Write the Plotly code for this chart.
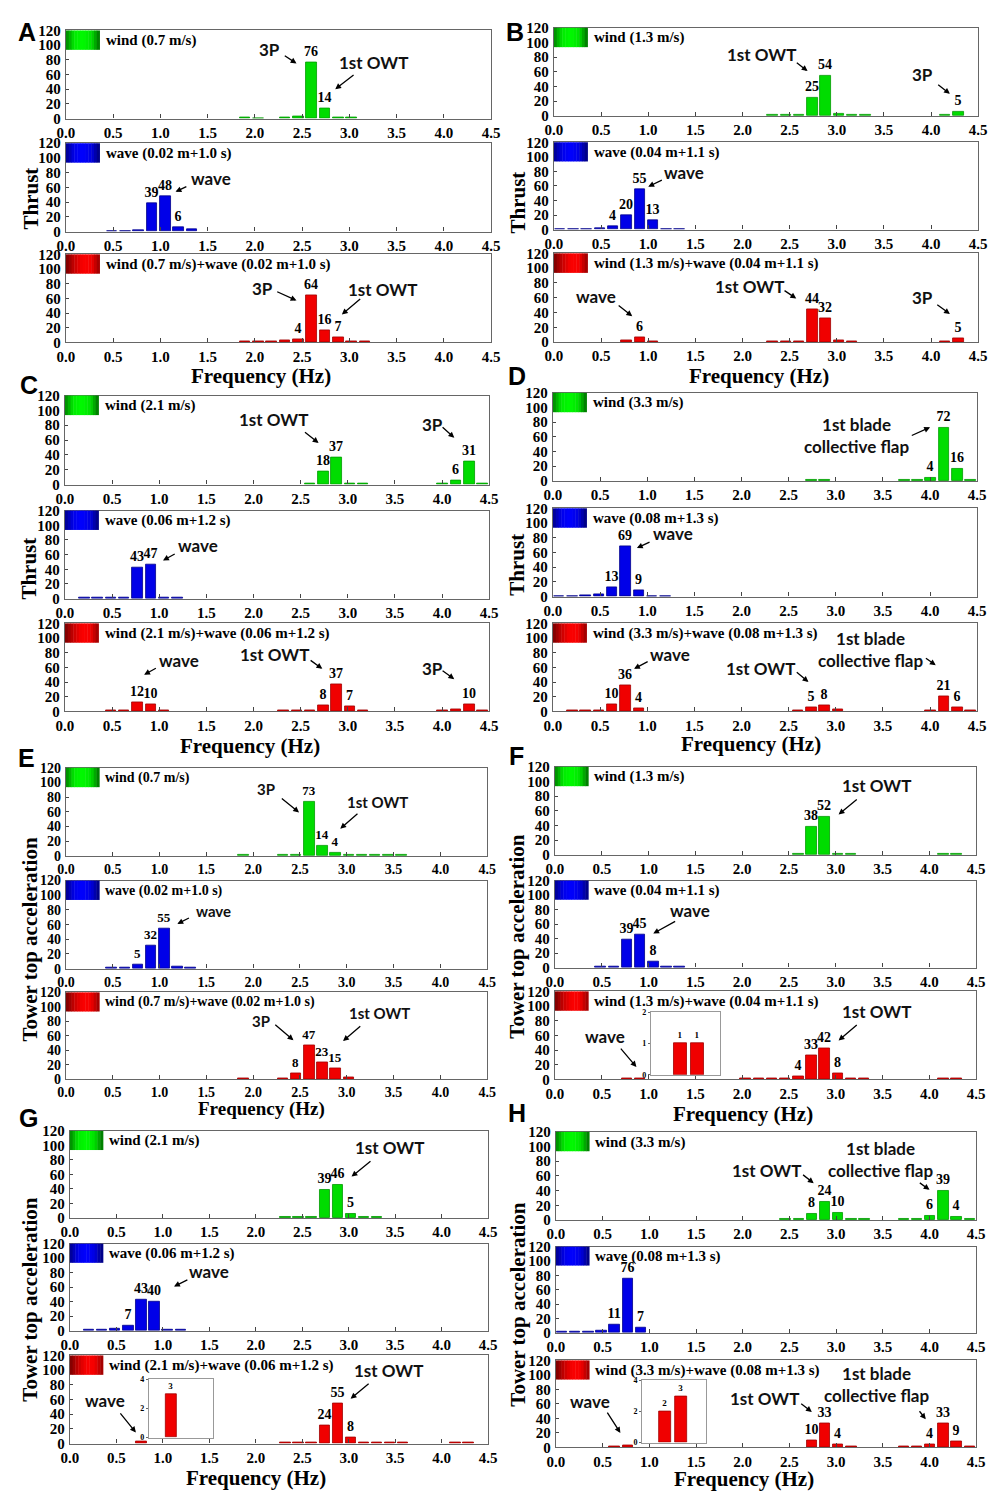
import plotly.graph_objects as go

# ---------------- DATA ----------------
# frequency bins (Hz) of the spectra
FREQ = [0.065, 0.206, 0.347, 0.487, 0.628, 0.769, 0.910, 1.051, 1.191, 1.332,
        1.473, 1.614, 1.755, 1.895, 2.036, 2.177, 2.318, 2.459, 2.599, 2.740,
        2.881, 3.022, 3.163, 3.303, 3.444, 3.585, 3.726, 3.867, 4.007, 4.148,
        4.289, 4.430]
X_TICKS = [0.0, 0.5, 1.0, 1.5, 2.0, 2.5, 3.0, 3.5, 4.0, 4.5]
Y_TICKS = [0, 20, 40, 60, 80, 100, 120]

A_WIND = [0,0,0,0,0, 0,0,0,0,0, 0,0,0,1,0.5, 0,1,3,76,14, 2,1,0,0,0, 0,0,0,0,0, 0,0]
A_WAVE = [0,0,0,1,1, 2,39,48,6,3, 0,0,0,0,0, 0,0,0,0,0, 0,0,0,0,0, 0,0,0,0,0, 0,0]
A_COMB = [0,0,0,0,0, 0,0,0,0,0, 0,0,0,1,1, 1,3,4,64,16, 7,1,1,0,0, 0,0,0,0,0, 0,0]

B_WIND = [0,0,0,0,0, 0,0,0,0,0, 0,0,0,0,0, 0,1,1,2,25, 54,3,1,1,0, 0,0,0,0,2, 5,0]
B_WAVE = [1,1,1,2,4, 20,55,13,1,1, 0,0,0,0,0, 0,0,0,0,0, 0,0,0,0,0, 0,0,0,0,0, 0,0]
B_COMB = [0,0,0,0,0, 3,6,1,0,0, 0,0,0,0,0, 0,1,1,1,44, 32,2,1,0,0, 0,0,0,0,1.5, 5,0]

C_WIND = [0,0,0,0,0, 0,0,0,0,0, 0,0,0,0,0, 0,0,0,1,18, 37,1,1,0,0, 0,0,0,1,6, 31,2]
C_WAVE = [0,1,1,1,2, 43,47,2,1,0, 0,0,0,0,0, 0,0,0,0,0, 0,0,0,0,0, 0,0,0,0,0, 0,0]
C_COMB = [0,0,0,1,1, 12,10,1,0,0, 0,0,0,0,0, 0,1,1,2,8, 37,7,1,0,0, 0,0,0,1,3, 10,1]

D_WIND = [0,0,0,0,0, 0,0,0,0,0, 0,0,0,0,0, 0,0,0,0,1, 1,0,0,0,0, 0,1,1,4,72, 16,2]
D_WAVE = [1,1,2,3,13, 69,9,1,1,0, 0,0,0,0,0, 0,0,0,0,0, 0,0,0,0,0, 0,0,0,0,0, 0,0]
D_COMB = [0,1,1,1,10, 36,4,0,0,0, 0,0,0,0,0, 0,0,0,1,5, 8,3,0,0,0, 0,0,0,1,21, 6,1]

E_WIND = [0,0,0,0,0, 0,0,0,0,0, 0,0,0,1,0, 0,1,2,73,14, 4,1,1,1,1, 1,0,0,0,0, 0,0]
E_WAVE = [0,0,0,1,1, 5,32,55,3,2, 0,0,0,0,0, 0,0,0,0,0, 0,0,0,0,0, 0,0,0,0,0, 0,0]
E_COMB = [0,0,0,0,0, 0,0,0,0,0, 0,0,0,1,0, 0,1,8,47,23, 15,3,0,0,0, 0,0,0,0,0, 0,0]

F_WIND = [0,0,0,0,0, 0,0,0,0,0, 0,0,0,0,0, 0,0,0,1,38, 52,1,2,0,0, 0,0,0,0,1, 1,0]
F_WAVE = [0,0,0,1,2, 39,45,8,2,1, 0,0,0,0,0, 0,0,0,0,0, 0,0,0,0,0, 0,0,0,0,0, 0,0]
F_COMB = [0,0,0,0,0, 1,1,0,0,0, 0,0,0,0,1, 1,1,2,4,33, 42,8,1,1,0, 0,0,0,0,1, 2,0]

G_WIND = [0,0,0,0,0, 0,0,0,0,0, 0,0,0,0,0, 0,1,1,2,39, 46,5,1,1,0, 0,0,0,0,0, 0,0]
G_WAVE = [0,1,2,3,7, 43,40,2,1,0, 0,0,0,0,0, 0,0,0,0,0, 0,0,0,0,0, 0,0,0,0,0, 0,0]
G_COMB = [0,0,0,0,0, 3,0,0,0,0, 0,0,0,0,0, 0,1,1,2,24, 55,8,2,2,1, 1,0,0,0,1, 1,0]

H_WIND = [0,0,0,0,0, 0,0,0,0,0, 0,0,0,0,0, 0,0,1,1,8, 24,10,1,1,0, 0,1,1,6,39, 4,1]
H_WAVE = [1,1,1,3,11, 76,7,0,0,0, 0,0,0,0,0, 0,0,0,0,0, 0,0,0,0,0, 0,0,0,0,0, 0,0]
H_COMB = [0,0,0,0,2, 3,0,0,0,0, 0,0,0,0,0, 0,0,0,0,10, 33,4,1,0,0, 0,1,1,4,33, 9,2]

WIND_SPEED = ["0.7 m/s", "1.3 m/s", "2.1 m/s", "3.3 m/s"]
WAVE_COND = ["0.02 m+1.0 s", "0.04 m+1.1 s", "0.06 m+1.2 s", "0.08 m+1.3 s"]
PANEL_NAMES = ["A", "B", "C", "D", "E", "F", "G", "H"]
Y_TITLES = ["Thrust"] * 4 + ["Tower top acceleration"] * 4
SERIES = [
    (A_WIND, A_WAVE, A_COMB), (B_WIND, B_WAVE, B_COMB),
    (C_WIND, C_WAVE, C_COMB), (D_WIND, D_WAVE, D_COMB),
    (E_WIND, E_WAVE, E_COMB), (F_WIND, F_WAVE, F_COMB),
    (G_WIND, G_WAVE, G_COMB), (H_WIND, H_WAVE, H_COMB),
]

# ---------------- LAYOUT (pixels) ----------------
W, H = 997, 1499
# left, right, (top, bottom) of the three stacked plots
BOXES = [
    (58, 491, [(22.7, 111.7), (136.7, 226), (249, 338)]),
    (555, 987, [(20, 109), (135.7, 224), (248, 337.7)]),
    (57, 489, [(391.7, 481.7), (508, 597), (622, 711)]),
    (554, 986, [(389, 478), (505.7, 595), (622, 711)]),
    (58, 487, [(768, 857), (882, 971), (995, 1083)]),
    (556, 985, [(767, 856), (882, 970), (994, 1083)]),
    (62, 488, [(1135, 1223), (1249, 1337), (1362, 1451)]),
    (557, 985, [(1136, 1225), (1252, 1339), (1367, 1455)]),
]
LETTER_POS = [(18, 24), (515, 24), (20, 381), (517, 372), (18, 758), (517, 756), (20, 1122), (517, 1117)]
YTITLE_POS = [(22, 193), (518, 197), (20, 567), (517, 563), (21, 942), (517, 939), (21, 1306), (518, 1311)]
XTITLE_POS = [(257, 372), (764, 372), (245, 746), (756, 744), (257, 1113), (747, 1118), (252, 1486), (749, 1487)]
FONT_SCALE = [1, 1, 1, 1, 0.9, 1, 1, 1]

# annotations: (panel, subplot, text, text_x, text_y, tail_x, tail_y, head_x, head_y)  [Hz, value]
NOTES = [
    (0, 0, "3P", 2.15, 94, 2.30, 87, 2.44, 75),
    (0, 0, "1st OWT", 3.25, 77, 3.06, 61, 2.85, 40),
    (0, 1, "wave", 1.54, 72, 1.29, 62, 1.16, 54),
    (0, 2, "3P", 2.08, 73, 2.22, 70, 2.44, 57),
    (0, 2, "1st OWT", 3.35, 72, 3.13, 61, 2.92, 38),
    (1, 0, "1st OWT", 2.20, 83, 2.56, 74, 2.69, 61),
    (1, 0, "3P", 3.91, 56, 4.06, 44, 4.20, 30),
    (1, 1, "wave", 1.38, 79, 1.16, 69, 1.00, 59),
    (1, 2, "wave", 0.45, 62, 0.67, 51, 0.83, 35),
    (1, 2, "1st OWT", 2.07, 75, 2.43, 71, 2.57, 59),
    (1, 2, "3P", 3.91, 60, 4.05, 52, 4.20, 38),
    (2, 0, "1st OWT", 2.21, 88, 2.53, 72, 2.69, 56),
    (2, 0, "3P", 3.90, 81, 3.99, 79, 4.13, 63),
    (2, 1, "wave", 1.41, 73, 1.18, 62, 1.04, 52),
    (2, 2, "wave", 1.21, 69, 0.98, 60, 0.84, 50),
    (2, 2, "1st OWT", 2.22, 77, 2.59, 71, 2.73, 58),
    (2, 2, "3P", 3.90, 59, 3.99, 57, 4.13, 44),
    (3, 0, "1st blade<br>collective flap", 3.22, 62, 3.79, 61, 4.00, 73),
    (3, 1, "wave", 1.27, 86, 1.04, 75, 0.89, 66),
    (3, 2, "wave", 1.24, 78, 1.02, 69, 0.86, 58),
    (3, 2, "1st OWT", 2.20, 59, 2.57, 55, 2.71, 40),
    (3, 2, "1st blade<br>collective flap", 3.37, 85, 3.94, 74, 4.06, 63),
    (4, 0, "3P", 2.14, 91, 2.29, 80, 2.49, 59),
    (4, 0, "1st OWT", 3.33, 74, 3.13, 59, 2.93, 37),
    (4, 1, "wave", 1.58, 79, 1.33, 70, 1.19, 61),
    (4, 2, "3P", 2.08, 80, 2.22, 77, 2.43, 54),
    (4, 2, "1st OWT", 3.35, 92, 3.16, 75, 2.96, 53),
    (5, 0, "1st OWT", 3.43, 94, 3.24, 77, 3.03, 55),
    (5, 1, "wave", 1.44, 79, 1.30, 65, 1.05, 47),
    (5, 2, "wave", 0.53, 59, 0.69, 44, 0.87, 17),
    (5, 2, "1st OWT", 3.43, 93, 3.24, 76, 3.03, 53),
    (6, 0, "1st OWT", 3.44, 97, 3.25, 80, 3.03, 57),
    (6, 1, "wave", 1.50, 82, 1.28, 71, 1.12, 61),
    (6, 2, "wave", 0.38, 58, 0.53, 43, 0.71, 15),
    (6, 2, "1st OWT", 3.43, 100, 3.23, 83, 3.02, 61),
    (7, 0, "1st OWT", 2.25, 67, 2.63, 63, 2.76, 50),
    (7, 0, "1st blade<br>collective flap", 3.48, 83, 3.88, 52, 4.00, 41),
    (7, 2, "wave", 0.36, 64, 0.54, 50, 0.69, 20),
    (7, 2, "1st OWT", 2.23, 68, 2.61, 62, 2.74, 49),
    (7, 2, "1st blade<br>collective flap", 3.43, 87, 3.88, 52, 3.96, 39),
]

# insets: (panel, pixel box left, right, top, bottom, x range, y max, y dtick)
INSETS = [
    (5, 653.7, 723.7, 1015, 1078.3, [0.525, 1.094], 2, 1),
    (6, 142.3, 207.3, 1386, 1445, [0.525, 1.215], 4, 2),
    (7, 644.7, 710.3, 1387.3, 1450, [0.427, 0.993], 4, 2),
]

COLORS = [
    dict(fill="#00dc00", line="#009a00",
         grad=[(0, 130, 0), (0, 235, 0), (0, 250, 0), (0, 225, 0), (0, 110, 0)]),
    dict(fill="#0000e8", line="#00008a",
         grad=[(0, 0, 140), (0, 0, 235), (0, 0, 255), (0, 0, 225), (0, 0, 120)]),
    dict(fill="#f00000", line="#a00000",
         grad=[(120, 0, 0), (200, 0, 0), (250, 0, 0), (245, 0, 0), (150, 0, 0)]),
]

SERIF = "Liberation Serif"
SANS = "Lato"


def pxx(x):
    return x / W


def pxy(y):
    return 1 - y / H


def ax_names(n):
    if n == 1:
        return "x", "y", "xaxis", "yaxis"
    return f"x{n}", f"y{n}", f"xaxis{n}", f"yaxis{n}"


def grad_color(stops, t):
    n = len(stops) - 1
    i = min(int(t * n), n - 1)
    f = t * n - i
    a, b = stops[i], stops[i + 1]
    c = [round(a[k] + (b[k] - a[k]) * f) for k in range(3)]
    return f"rgb({c[0]},{c[1]},{c[2]})"


fig = go.Figure()
layout = dict(
    width=W, height=H, autosize=False,
    margin=dict(l=0, r=0, t=0, b=0),
    paper_bgcolor="white", plot_bgcolor="white",
    showlegend=False, bargap=0,
)
shapes = []
annotations = []

ax_n = 0
for p in range(8):
    left, right, rows = BOXES[p]
    sc = FONT_SCALE[p]
    ci = p % 4
    legend_texts = [
        f"wind ({WIND_SPEED[ci]})",
        f"wave ({WAVE_COND[ci]})",
        f"wind ({WIND_SPEED[ci]})+wave ({WAVE_COND[ci]})",
    ]
    for s in range(3):
        ax_n += 1
        xa, ya, xk, yk = ax_names(ax_n)
        top, bottom = rows[s]
        vals = SERIES[p][s]
        col = COLORS[s]
        fig.add_trace(go.Bar(
            x=FREQ, y=vals, width=0.112,
            marker=dict(color=col["fill"],
                        line=dict(color=col["line"], width=[0.8 if v > 0 else 0 for v in vals])),
            text=[(f"{v:g}" if v >= 4 else "") for v in vals],
            textposition="outside", constraintext="none", cliponaxis=False,
            textfont=dict(family=SERIF, size=round(14 * sc), color="black", weight="bold"),
            xaxis=xa, yaxis=ya, hoverinfo="skip",
        ))
        layout[xk] = dict(
            domain=[pxx(left), pxx(right)], anchor=ya, range=[0, 4.5],
            tickvals=X_TICKS, ticktext=[f"{t:.1f}" for t in X_TICKS],
            ticks="inside", ticklen=4, tickcolor="#444", tickwidth=1,
            showline=True, mirror=True, linecolor="#666", linewidth=1.4,
            showgrid=False, zeroline=False,
            tickfont=dict(family=SERIF, size=round(15 * sc), color="black", weight="bold"),
        )
        layout[yk] = dict(
            domain=[pxy(bottom), pxy(top)], anchor=xa, range=[0, 120],
            tickvals=Y_TICKS, ticks="inside", ticklen=3, tickcolor="#444",
            showline=True, mirror=True, linecolor="#666", linewidth=1.4,
            showgrid=False, zeroline=False, ticklabelstandoff=1,
            tickfont=dict(family=SERIF, size=round(15 * sc), color="black", weight="bold"),
        )
        # legend swatch with gradient
        nstrip = 12
        for k in range(nstrip):
            shapes.append(dict(
                type="rect", xref=f"{xa} domain", yref=f"{ya} domain",
                x0=0.079 * k / nstrip, x1=0.079 * (k + 1) / nstrip + 0.001,
                y0=0.78, y1=1.0, line=dict(width=0),
                fillcolor=grad_color(col["grad"], (k + 0.5) / nstrip),
            ))
        annotations.append(dict(
            xref=f"{xa} domain", yref=f"{ya} domain", x=0.089, y=0.885,
            xanchor="left", yanchor="middle", showarrow=False,
            text=legend_texts[s],
            font=dict(family=SERIF, size=round(15 * sc), color="black", weight="bold"),
        ))
    # panel letter
    lx, ly = LETTER_POS[p]
    annotations.append(dict(
        xref="paper", yref="paper", x=pxx(lx), y=pxy(ly), xanchor="center", yanchor="middle",
        showarrow=False, text=PANEL_NAMES[p],
        font=dict(family="Liberation Sans", size=25, color="black", weight="bold"),
    ))
    tx, ty = YTITLE_POS[p]
    annotations.append(dict(
        xref="paper", yref="paper", x=pxx(tx), y=pxy(ty), xanchor="center", yanchor="middle",
        showarrow=False, text=Y_TITLES[p], textangle=-90,
        font=dict(family=SERIF, size=21, color="black", weight="bold"),
    ))
    fx, fy = XTITLE_POS[p]
    annotations.append(dict(
        xref="paper", yref="paper", x=pxx(fx), y=pxy(fy), xanchor="center", yanchor="middle",
        showarrow=False, text="Frequency (Hz)",
        font=dict(family=SERIF, size=round(21 * sc), color="black", weight="bold"),
    ))

# text notes with arrows
for (p, s, txt, tx, ty, ax0, ay0, hx, hy) in NOTES:
    n = p * 3 + s + 1
    xa, ya, _, _ = ax_names(n)
    annotations.append(dict(
        xref=xa, yref=ya, x=tx, y=ty, showarrow=False, text=txt,
        xanchor="center", yanchor="middle",
        font=dict(family=SANS, size=round(17 * FONT_SCALE[p]), color="#111", weight="bold"),
    ))
    annotations.append(dict(
        xref=xa, yref=ya, x=hx, y=hy, axref=xa, ayref=ya, ax=ax0, ay=ay0,
        text="", showarrow=True, arrowhead=2, arrowsize=0.9, arrowwidth=1.3,
        arrowcolor="black",
    ))

# insets (zoom of the low-frequency wave peak of combined loading)
for (p, l, r, t, b, xr, ymax, ydt) in INSETS:
    ax_n += 1
    xa, ya, xk, yk = ax_names(ax_n)
    vals = SERIES[p][2]
    fig.add_trace(go.Bar(
        x=FREQ, y=vals, width=0.11,
        marker=dict(color=COLORS[2]["fill"],
                    line=dict(color=COLORS[2]["line"], width=[0.8 if v > 0 else 0 for v in vals])),
        text=[(f"{v:g}" if v > 0 else "") for v in vals],
        textposition="outside", constraintext="none", cliponaxis=True,
        textfont=dict(family=SERIF, size=9, color="black", weight="bold"),
        xaxis=xa, yaxis=ya, hoverinfo="skip",
    ))
    layout[xk] = dict(
        domain=[pxx(l), pxx(r)], anchor=ya, range=xr,
        showticklabels=False, ticks="", showline=True, mirror=True,
        linecolor="#999", linewidth=1, showgrid=False, zeroline=False,
    )
    layout[yk] = dict(
        domain=[pxy(b), pxy(t)], anchor=xa, range=[0, ymax], dtick=ydt,
        ticks="outside", ticklen=2, tickcolor="#666", ticklabelstandoff=0,
        showline=True, mirror=True, linecolor="#999", linewidth=1,
        showgrid=False, zeroline=False,
        tickfont=dict(family=SERIF, size=8, color="black", weight="bold"),
    )

layout["shapes"] = shapes
layout["annotations"] = annotations
fig.update_layout(**layout)
fig.write_html("out.html")
